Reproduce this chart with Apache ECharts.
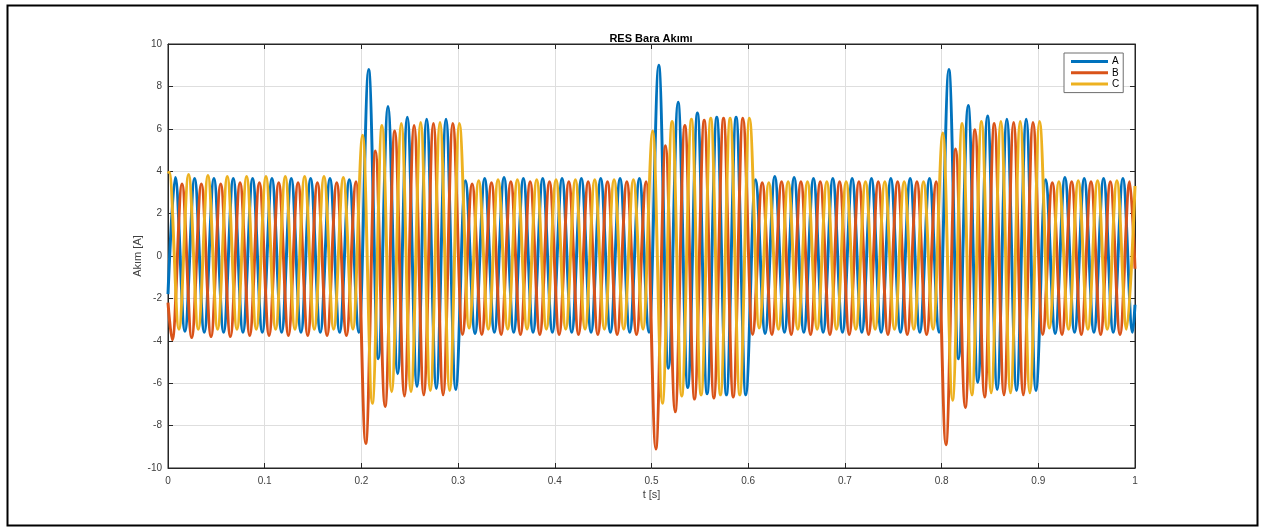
<!DOCTYPE html>
<html>
<head>
<meta charset="utf-8">
<title>RES Bara Akımı</title>
<script src="https://cdn.jsdelivr.net/npm/echarts@6/dist/echarts.min.js"></script>
<style>
  html, body { margin: 0; padding: 0; background: #fff; }
  #chart { width: 1262px; height: 527px; }
</style>
</head>
<body>
<div id="chart"></div>
<script>
// Three-phase busbar current, 50 Hz, with three fault windows (0.2-0.3 s, 0.5-0.6 s, 0.8-0.9 s).
// Each phase is stored as its successive half-cycle extrema (peak / trough values in A),
// spaced one half-period apart starting from the phase's first extremum time.

const seriesNames = ['A', 'B', 'C'];
const seriesColors = ['#0072BD', '#D95319', '#EDB120'];

const xTickLabels = ['0', '0.1', '0.2', '0.3', '0.4', '0.5', '0.6', '0.7', '0.8', '0.9', '1'];
const yTickLabels = ['-10', '-8', '-6', '-4', '-2', '0', '2', '4', '6', '8', '10'];

const HALF_PERIOD = 0.01;               // s
const firstExtremumTime = [0.0075, 0.0045, 0.0013];
const startValues = [-1.8, -2.2, 3.9];  // current at t = 0
const endValues = [-2.3, -0.6, 3.3];    // current at t = 1

const extremaA = [
  3.7, -3.55, 3.65, -3.6, 3.65, -3.6, 3.65, -3.6, 3.65, -3.6,
  3.65, -3.6, 3.65, -3.6, 3.65, -3.6, 3.65, -3.6, 3.6, -3.6,
  8.8, -4.85, 7.05, -5.55, 6.55, -6.15, 6.45, -6.25, 6.45, -6.3,
  3.55, -3.65, 3.65, -3.6, 3.7, -3.6, 3.65, -3.6, 3.65, -3.6,
  3.65, -3.6, 3.65, -3.6, 3.65, -3.6, 3.65, -3.6, 3.65, -3.6,
  9.0, -5.3, 7.25, -6.2, 6.75, -6.5, 6.55, -6.55, 6.55, -6.55,
  3.6, -3.65, 3.75, -3.6, 3.7, -3.6, 3.65, -3.6, 3.65, -3.6,
  3.65, -3.6, 3.65, -3.6, 3.65, -3.6, 3.65, -3.6, 3.65, -3.6,
  8.8, -4.85, 7.1, -5.95, 6.6, -6.3, 6.45, -6.35, 6.45, -6.35,
  3.6, -3.65, 3.7, -3.6, 3.65, -3.6, 3.65, -3.6, 3.65, -3.6
];

const extremaB = [
  -3.95, 3.4, -3.85, 3.4, -3.8, 3.4, -3.8, 3.45, -3.75, 3.45,
  -3.75, 3.45, -3.75, 3.45, -3.75, 3.45, -3.75, 3.45, -3.75, 3.5,
  -8.85, 4.95, -7.1, 5.9, -6.6, 6.15, -6.55, 6.25, -6.55, 6.25,
  -3.7, 3.4, -3.7, 3.45, -3.7, 3.5, -3.7, 3.5, -3.7, 3.5,
  -3.7, 3.5, -3.7, 3.5, -3.7, 3.5, -3.7, 3.5, -3.7, 3.5,
  -9.1, 5.2, -7.35, 6.15, -6.75, 6.4, -6.7, 6.5, -6.65, 6.5,
  -3.7, 3.45, -3.7, 3.5, -3.7, 3.5, -3.7, 3.5, -3.7, 3.5,
  -3.7, 3.5, -3.7, 3.5, -3.7, 3.5, -3.7, 3.5, -3.7, 3.5,
  -8.9, 5.05, -7.15, 5.95, -6.65, 6.25, -6.55, 6.3, -6.55, 6.3,
  -3.7, 3.45, -3.7, 3.5, -3.7, 3.5, -3.7, 3.5, -3.7, 3.5
];

const extremaC = [
  3.95, -3.45, 3.85, -3.45, 3.8, -3.45, 3.75, -3.45, 3.75, -3.45,
  3.75, -3.45, 3.75, -3.45, 3.75, -3.45, 3.75, -3.45, 3.7, -3.45,
  5.7, -6.95, 6.15, -6.4, 6.25, -6.4, 6.3, -6.35, 6.3, -6.35, 6.25,
  -3.4, 3.55, -3.45, 3.6, -3.45, 3.6, -3.45, 3.6, -3.45,
  3.6, -3.45, 3.6, -3.45, 3.6, -3.45, 3.6, -3.45, 3.6, -3.45,
  5.9, -6.95, 6.35, -6.6, 6.45, -6.55, 6.5, -6.55, 6.5, -6.55, 6.5,
  -3.4, 3.45, -3.45, 3.5, -3.45, 3.5, -3.45, 3.5, -3.45,
  3.5, -3.45, 3.5, -3.45, 3.5, -3.45, 3.5, -3.45, 3.5, -3.45,
  5.8, -6.8, 6.25, -6.55, 6.35, -6.45, 6.35, -6.45, 6.35, -6.45, 6.35,
  -3.4, 3.5, -3.45, 3.55, -3.45, 3.55, -3.45, 3.55, -3.45
];

const extremaByPhase = [extremaA, extremaB, extremaC];

// [time, current] pairs for one phase
function phasePoints(i) {
  const pts = [[0, startValues[i]]];
  extremaByPhase[i].forEach(function (v, k) {
    pts.push([+(firstExtremumTime[i] + k * HALF_PERIOD).toFixed(4), v]);
  });
  pts.push([1, endValues[i]]);
  return pts;
}

const FONT = '"Liberation Sans", Arial, Helvetica, sans-serif';
const AXIS_COLOR = '#262626';
const LABEL_COLOR = '#404040';

const chart = echarts.init(document.getElementById('chart'), null, { renderer: 'canvas' });

const boxAxisLine = { show: true, onZero: false, lineStyle: { color: AXIS_COLOR, width: 1 } };
const boxTick = { show: true, inside: true, length: 5, lineStyle: { color: AXIS_COLOR } };

const option = {
  backgroundColor: '#ffffff',
  animation: false,
  textStyle: { fontFamily: FONT },
  title: {
    text: 'RES Bara Akımı',
    left: 651,
    top: 33,
    textAlign: 'center',
    padding: 0,
    textStyle: { fontFamily: FONT, fontSize: 11, fontWeight: 'bold', color: '#000' }
  },
  legend: {
    data: seriesNames,
    orient: 'vertical',
    left: 1064,
    top: 53,
    padding: [3, 4, 3, 7],
    itemGap: 0.3,
    itemWidth: 37,
    itemHeight: 3,
    icon: 'rect',
    backgroundColor: '#ffffff',
    borderColor: '#6e6e6e',
    borderWidth: 1,
    borderRadius: 0,
    textStyle: { fontFamily: FONT, fontSize: 10, color: '#000', lineHeight: 11, padding: [0, 0, 0, -1] },
    z: 10
  },
  grid: {
    left: 168, right: 127, top: 44, bottom: 59,
    show: true, borderColor: AXIS_COLOR, borderWidth: 1, backgroundColor: '#fff'
  },
  xAxis: [
    {
      type: 'value', min: 0, max: 1, interval: 0.1, position: 'bottom',
      name: 't [s]', nameLocation: 'middle', nameGap: 21,
      nameTextStyle: { fontFamily: FONT, fontSize: 11, color: LABEL_COLOR },
      nameMoveOverlap: false,
      axisLine: boxAxisLine,
      axisTick: boxTick,
      axisLabel: {
        fontFamily: FONT, fontSize: 10, color: LABEL_COLOR, margin: 8,
        formatter: function (v) { return xTickLabels[Math.round(v * 10)]; }
      },
      splitLine: { show: true, lineStyle: { color: '#dedede', width: 1 } }
    },
    {
      type: 'value', min: 0, max: 1, interval: 0.1, position: 'top',
      axisLine: boxAxisLine,
      axisTick: boxTick,
      axisLabel: { show: false },
      splitLine: { show: false }
    }
  ],
  yAxis: [
    {
      type: 'value', min: -10, max: 10, interval: 2, position: 'left',
      name: 'Akım [A]', nameLocation: 'middle', nameGap: 25, nameRotate: 90,
      nameTextStyle: { fontFamily: FONT, fontSize: 11, color: LABEL_COLOR },
      nameMoveOverlap: false,
      axisLine: boxAxisLine,
      axisTick: boxTick,
      axisLabel: {
        fontFamily: FONT, fontSize: 10, color: LABEL_COLOR, margin: 6,
        formatter: function (v) { return yTickLabels[Math.round((v + 10) / 2)]; }
      },
      splitLine: { show: true, lineStyle: { color: '#dedede', width: 1 } }
    },
    {
      type: 'value', min: -10, max: 10, interval: 2, position: 'right',
      axisLine: boxAxisLine,
      axisTick: boxTick,
      axisLabel: { show: false },
      splitLine: { show: false }
    }
  ],
  series: seriesNames.map(function (name, i) {
    return {
      name: name,
      type: 'line',
      xAxisIndex: 0,
      yAxisIndex: 0,
      data: phasePoints(i),
      showSymbol: false,
      smooth: 0.36,
      smoothMonotone: 'x',
      color: seriesColors[i],
      lineStyle: { color: seriesColors[i], width: 3 },
      z: 2 + i
    };
  }),
  graphic: [
    {
      type: 'rect',
      left: 5, top: 3,
      shape: { x: 0, y: 0, width: 1250, height: 520 },
      style: { fill: 'none', stroke: '#000', lineWidth: 2 },
      silent: true,
      z: 100
    }
  ]
};

chart.setOption(option);
</script>
</body>
</html>
